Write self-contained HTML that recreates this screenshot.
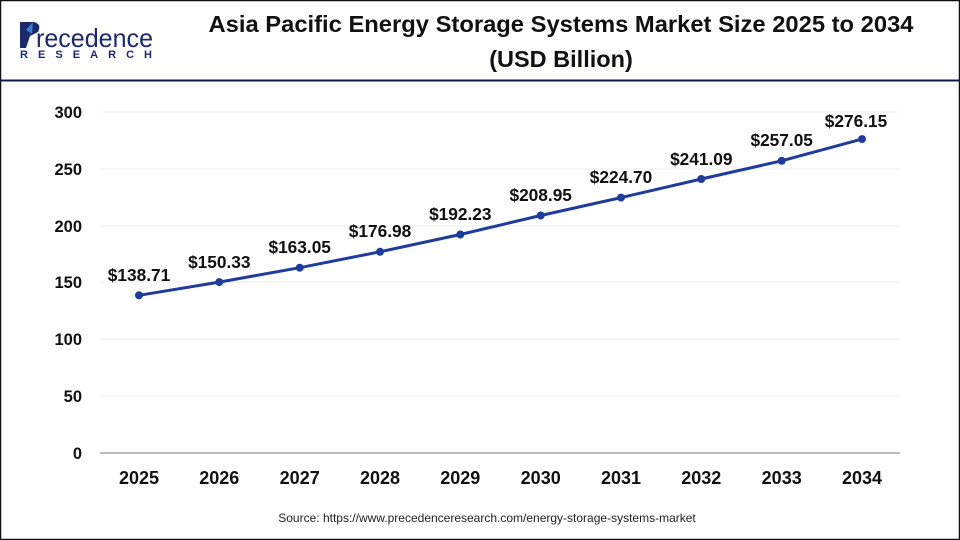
<!DOCTYPE html>
<html><head><meta charset="utf-8"><style>
html,body{margin:0;padding:0;background:#fff;}
body{width:960px;height:540px;overflow:hidden;position:relative;font-family:"Liberation Sans",Arial,sans-serif;}
</style></head><body>
<svg width="960" height="540" xmlns="http://www.w3.org/2000/svg" style="position:absolute;left:0;top:0">
<rect x="0.5" y="0.5" width="959" height="539" fill="#fff" stroke="#111" stroke-width="1.5"/>
<line x1="0" y1="80.5" x2="960" y2="80.5" stroke="#0f1a4a" stroke-width="2"/>
<path d="M20 22 L34 22 Q42 24 38 32 L30 36 L26 48 L20 48 Z" fill="#1b2a6b"/>
<path d="M26 30 L33 22 L32 34 Z" fill="#3a7bd5"/>
<text x="36" y="47" font-size="26" fill="#1b2a6b" textLength="117" lengthAdjust="spacingAndGlyphs">recedence</text>
<text x="20" y="58" font-size="11" font-weight="bold" fill="#1b2a6b" textLength="132" lengthAdjust="spacing">RESEARCH</text>
<text x="561" y="32" text-anchor="middle" font-size="23.5" font-weight="bold" fill="#111" textLength="705" lengthAdjust="spacingAndGlyphs">Asia Pacific Energy Storage Systems Market Size 2025 to 2034</text>
<text x="561" y="67" text-anchor="middle" font-size="23.5" font-weight="bold" fill="#111">(USD Billion)</text>
<g stroke="#ececec" stroke-width="1">
<line x1="100" y1="112" x2="900" y2="112"/><line x1="100" y1="169" x2="900" y2="169"/>
<line x1="100" y1="226" x2="900" y2="226"/><line x1="100" y1="282" x2="900" y2="282"/>
<line x1="100" y1="339" x2="900" y2="339"/><line x1="100" y1="396" x2="900" y2="396"/>
</g>
<line x1="100" y1="453" x2="900" y2="453" stroke="#bdbdbd" stroke-width="2"/>
<g font-size="16.5" font-weight="bold" fill="#111" text-anchor="end">
<text x="82" y="118">300</text><text x="82" y="175">250</text><text x="82" y="232">200</text>
<text x="82" y="288">150</text><text x="82" y="345">100</text><text x="82" y="402">50</text><text x="82" y="459">0</text>
</g>
<g font-size="18" font-weight="bold" fill="#111" text-anchor="middle">
<text x="139" y="484">2025</text><text x="219.3" y="484">2026</text><text x="299.7" y="484">2027</text>
<text x="380" y="484">2028</text><text x="460.3" y="484">2029</text><text x="540.7" y="484">2030</text>
<text x="621" y="484">2031</text><text x="701.3" y="484">2032</text><text x="781.7" y="484">2033</text><text x="862" y="484">2034</text>
</g>
<polyline fill="none" stroke="#1f3b9c" stroke-width="3" points="139,295.3 219.3,282.1 299.7,267.7 380,251.8 460.3,234.5 540.7,215.5 621,197.6 701.3,179 781.7,160.8 862,139.1"/>
<g fill="#1f3b9c">
<circle cx="139" cy="295.3" r="4"/><circle cx="219.3" cy="282.1" r="4"/><circle cx="299.7" cy="267.7" r="4"/>
<circle cx="380" cy="251.8" r="4"/><circle cx="460.3" cy="234.5" r="4"/><circle cx="540.7" cy="215.5" r="4"/>
<circle cx="621" cy="197.6" r="4"/><circle cx="701.3" cy="179" r="4"/><circle cx="781.7" cy="160.8" r="4"/><circle cx="862" cy="139.1" r="4"/>
</g>
<g font-size="17.3" font-weight="bold" fill="#111" text-anchor="middle">
<text x="139" y="281">$138.71</text><text x="219.3" y="268">$150.33</text><text x="299.7" y="253">$163.05</text>
<text x="380" y="237">$176.98</text><text x="460.3" y="220">$192.23</text><text x="540.7" y="201">$208.95</text>
<text x="621" y="183">$224.70</text><text x="701.3" y="165">$241.09</text><text x="781.7" y="146">$257.05</text><text x="856" y="127">$276.15</text>
</g>
<text x="487" y="522" text-anchor="middle" font-size="12" fill="#222">Source: https://www.precedenceresearch.com/energy-storage-systems-market</text>
</svg>
</body></html>
